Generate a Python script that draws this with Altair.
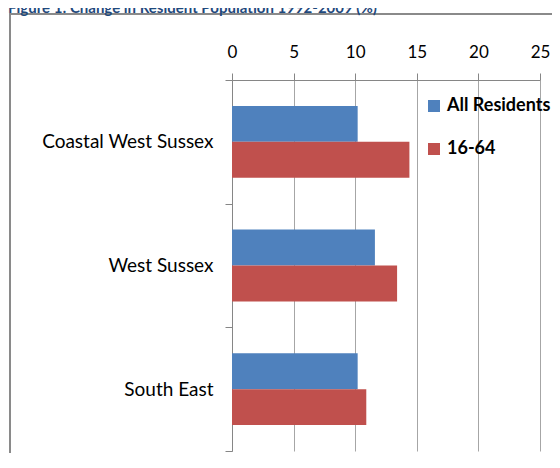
import altair as alt
import pandas as pd

title_text = "Figure 1: Change in Resident Population 1992-2009 (%)"
regions = ["Coastal West Sussex", "West Sussex", "South East"]
series = ["All Residents", "16-64"]
all_residents = [10.2, 11.6, 10.2]
age_16_64 = [14.4, 13.4, 10.9]
x_ticks = [0, 5, 10, 15, 20, 25]
colors = ["#4F81BD", "#C0504D"]

rows = []
for r, a, b in zip(regions, all_residents, age_16_64):
    rows.append({"region": r, "series": series[0], "value": a})
    rows.append({"region": r, "series": series[1], "value": b})
df = pd.DataFrame(rows)

FONT = "Lato"

bars = alt.Chart(df).mark_bar().encode(
    x=alt.X("value:Q",
            scale=alt.Scale(domain=[0, 25], nice=False, zero=True),
            axis=alt.Axis(orient="top", values=x_ticks, title=None, grid=True,
                          gridColor="#a6a6a6", gridWidth=1,
                          domainColor="#868686", tickColor="#868686",
                          tickSize=7, labelPadding=12, labelFont=FONT,
                          labelFontSize=17, labelColor="#000000",
                          labelFlush=False)),
    y=alt.Y("region:N", sort=regions,
            scale=alt.Scale(paddingInner=0, paddingOuter=0),
            axis=alt.Axis(title=None, tickBand="extent", tickSize=7,
                          labelPadding=12, labelFont=FONT, labelFontSize=19,
                          labelColor="#000000", domainColor="#868686",
                          tickColor="#868686", grid=False, labelLimit=0)),
    yOffset=alt.YOffset("series:N", sort=series,
                        scale=alt.Scale(paddingOuter=0.72, paddingInner=0)),
    color=alt.Color("series:N",
                    scale=alt.Scale(domain=series, range=colors),
                    legend=alt.Legend(orient="none", legendX=193, legendY=17,
                                      title=None, symbolType="square",
                                      symbolSize=144, symbolStrokeWidth=0,
                                      labelFont=FONT, labelFontSize=18,
                                      labelFontWeight="bold",
                                      labelColor="#000000", labelOffset=4,
                                      labelLimit=0, rowPadding=25)),
)

frame_df = pd.DataFrame({"a": [0]})
frame_left = alt.Chart(frame_df).mark_rule(color="#8a8a8a", strokeWidth=2).encode(
    x=alt.value(-222), y=alt.value(-66), y2=alt.value(373),
)
frame_top = alt.Chart(frame_df).mark_rule(color="#8a8a8a", strokeWidth=2).encode(
    x=alt.value(-223), x2=alt.value(320), y=alt.value(-66),
)

title = alt.Chart(pd.DataFrame({"t": [title_text]})).mark_text(
    align="left", baseline="alphabetic", font=FONT, fontSize=15,
    fontWeight="bold", color="#1F497D"
).encode(
    text="t:N", x=alt.value(-224), y=alt.value(-67),
)

chart = alt.layer(frame_left, frame_top, bars, title).properties(
    width=308, height=371,
    padding={"left": 224, "top": 72, "right": 12, "bottom": 2},
    autosize=alt.AutoSizeParams(type="none"),
).configure_view(strokeWidth=0)

chart.save("out.html", embed_options={"renderer": "svg", "actions": False})
